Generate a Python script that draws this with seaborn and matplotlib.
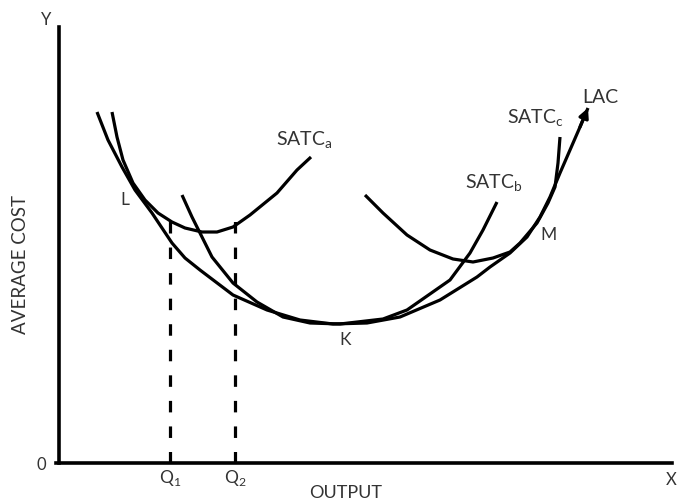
import matplotlib
matplotlib.use('Agg')
import matplotlib.pyplot as plt
import seaborn as sns
import pandas as pd

# curve values (output, average cost)
lac_x = [38, 49, 63, 76, 93, 113, 126, 141, 174, 208, 241, 274, 308, 341, 381, 418, 431, 451, 468, 481, 491, 501, 511, 521, 529]
lac_y = [351, 323, 296, 273, 250, 220, 205, 193, 168, 153, 143, 139, 140, 146, 163, 186, 196, 210, 226, 246, 266, 290, 313, 336, 355]

satc_a_x = [53, 58, 64, 74, 86, 99, 113, 126, 143, 158, 174, 191, 218, 238, 252]
satc_a_y = [351, 326, 303, 280, 263, 250, 241, 235, 231, 231, 236, 248, 270, 293, 306]

satc_b_x = [123, 133, 141, 153, 174, 198, 224, 251, 281, 324, 348, 391, 411, 424, 438]
satc_b_y = [268, 246, 230, 206, 180, 161, 146, 140, 139, 144, 153, 183, 210, 233, 261]

satc_c_x = [306, 324, 348, 371, 394, 414, 434, 451, 461, 478, 489, 496, 499, 501]
satc_c_y = [268, 250, 228, 213, 204, 201, 205, 211, 220, 240, 260, 276, 300, 326]

q_x = [111, 176]
q_top = [243, 245]
q_labels = ['Q$_\\mathregular{1}$', 'Q$_\\mathregular{2}$']


def seaborn_settings():
    '''
    White theme, no grid, Calibri-like font
    '''
    sns.set_theme(style='white')
    plt.rcParams['font.family'] = ['Lato', 'DejaVu Sans']


def build_frame():
    frames = []
    for name, xs, ys in [('LAC', lac_x, lac_y), ('SATCa', satc_a_x, satc_a_y),
                         ('SATCb', satc_b_x, satc_b_y), ('SATCc', satc_c_x, satc_c_y)]:
        frames.append(pd.DataFrame({'output': xs, 'cost': ys, 'curve': name}))
    return pd.concat(frames, ignore_index=True)


def cost_curves():
    seaborn_settings()
    fig = plt.figure(figsize=(6.78, 5.01), dpi=100)
    ax = fig.add_axes([0, 0, 1, 1])

    df = build_frame()
    sns.lineplot(data=df, x='output', y='cost', hue='curve', sort=False,
                 estimator=None, palette=['black'] * 4, linewidth=2.3,
                 legend=False, ax=ax, solid_joinstyle='round', solid_capstyle='butt')

    # arrow head at the top of LAC
    ax.annotate('', xy=(lac_x[-1], lac_y[-1]), xytext=(lac_x[-2], lac_y[-2]),
                arrowprops=dict(arrowstyle='-|>', color='black', lw=2.3,
                                mutation_scale=14, shrinkA=0, shrinkB=0))

    # dashed drop lines
    for x, top in zip(q_x, q_top):
        ax.plot([x, x], [0, top], color='black', lw=2.3, linestyle=(0, (3.6, 4.4)))

    # axes
    ax.set_xlim(-59, 619)
    ax.set_ylim(-38, 463)
    for side in ['top', 'right']:
        ax.spines[side].set_visible(False)
    ax.spines['left'].set_position(('data', 0))
    ax.spines['bottom'].set_position(('data', 0))
    ax.spines['left'].set_bounds(0, 436)
    ax.spines['bottom'].set_bounds(-3, 613)
    for side in ['left', 'bottom']:
        ax.spines[side].set_linewidth(2.6)
        ax.spines[side].set_color('black')
    ax.set_xticks([])
    ax.set_yticks([])
    ax.set_xlabel('')
    ax.set_ylabel('')
    ax.patch.set_alpha(0)

    tc = '#333333'
    ax.text(-13, 443, 'Y', fontsize=12, color=tc, ha='center', va='center')
    ax.text(-18, -2, '0', fontsize=12, color=tc, ha='center', va='center')
    ax.text(618, -17, 'X', fontsize=12, color=tc, ha='right', va='center')
    ax.text(-39, 198, 'AVERAGE COST', fontsize=13.5, color=tc, rotation=90,
            ha='center', va='center')
    ax.text(287, -30, 'OUTPUT', fontsize=13, color=tc, ha='center', va='center')
    for x, lab in zip(q_x, q_labels):
        ax.text(x, -15, lab, fontsize=12.5, color=tc, ha='center', va='center')

    ax.text(66, 263, 'L', fontsize=12.5, color=tc, ha='center', va='center')
    ax.text(286, 123, 'K', fontsize=12.5, color=tc, ha='center', va='center')
    ax.text(490, 228, 'M', fontsize=12.5, color=tc, ha='center', va='center')
    ax.text(245, 323, 'SATC$_\\mathregular{a}$', fontsize=14, color=tc, ha='center', va='center')
    ax.text(435, 280, 'SATC$_\\mathregular{b}$', fontsize=14, color=tc, ha='center', va='center')
    ax.text(476, 345, 'SATC$_\\mathregular{c}$', fontsize=14, color=tc, ha='center', va='center')
    ax.text(541, 366, 'LAC', fontsize=14, color=tc, ha='center', va='center')

    fig.savefig('out.png', dpi=100)


cost_curves()
